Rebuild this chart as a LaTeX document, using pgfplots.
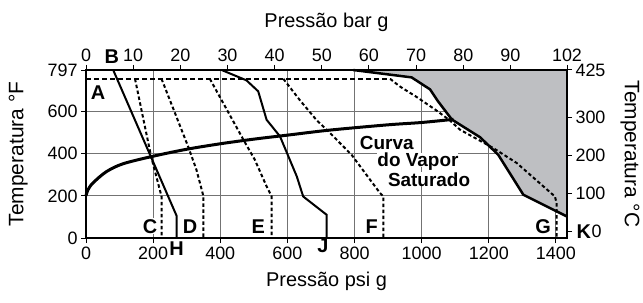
\documentclass[border=0pt]{standalone}
\usepackage{pgfplots}
\pgfplotsset{compat=1.18}
\usepackage{fontspec}
\setmainfont{Liberation Sans}
\definecolor{shade}{RGB}{190,191,194}
\tikzset{
  lab/.style={font=\bfseries\fontsize{20}{20}\selectfont, inner sep=1bp},
  ttl/.style={font=\fontsize{20}{20}\selectfont},
  sat/.style={font=\bfseries\fontsize{19}{19}\selectfont, fill=white, inner sep=0pt, anchor=base, text height=14bp},
}
\begin{document}
\begin{tikzpicture}[x=1bp,y=1bp]
\useasboundingbox (0,0) rectangle (643,302);
\pgfplotsset{
  common/.style={scale only axis, width=481bp, height=168bp, at={(86bp,64bp)}, anchor=south west,
    tick align=outside, major tick length=5bp, tick style={black, line width=1bp},
    ticklabel style={font=\fontsize{18}{18}\selectfont},
    /pgf/number format/assume math mode=true, /pgf/number format/1000 sep={},
    axis line style={line width=2.5bp}, clip=false},
}
\begin{axis}[common, xmin=0, xmax=1433, ymin=0, ymax=797,
  xtick={0,200,...,1400}, ytick={0,200,400,600,797},
  xtick pos=left, ytick pos=left,
  grid=major, grid style={black!55, line width=0.9bp},
  xlabel={Pressão psi g}, ylabel={Temperatura °F},
  xlabel style={ttl, at={(axis description cs:0.5,-0.256)}, anchor=center},
  ylabel style={ttl, font=\fontsize{21}{21}\selectfont, at={(axis description cs:-0.141,0.5)}, anchor=center}]
% shaded region
\addplot[fill=shade, draw=none] coordinates {(796,797) (970,762) (1025,705) (1048,650) (1090,562) (1174,478) (1228,395) (1303,205) (1433,102) (1433,797) (796,797)};
% A dashed line
\addplot[black, line width=2bp, dash pattern=on 5bp off 3bp] coordinates {(0,755) (906,755)};
% C
\addplot[black, line width=2bp, dash pattern=on 3.5bp off 2.5bp] coordinates {(146,755) (194,387) (225,197) (225,0)};
% D
\addplot[black, line width=2bp, dash pattern=on 3.5bp off 2.5bp] coordinates {(225,755) (304,435) (329,324) (350,197) (350,0)};
% E
\addplot[black, line width=2bp, dash pattern=on 3.5bp off 2.5bp] coordinates {(369,755) (469,466) (503,371) (538,245) (553,197) (553,0)};
% F
\addplot[black, line width=2bp, dash pattern=on 3.5bp off 2.5bp] coordinates {(588,755) (637,654) (687,559) (722,506) (791,395) (876,213) (886,197) (886,0)};
% G
\addplot[black, line width=2bp, dash pattern=on 3.5bp off 2.5bp] coordinates {(906,755) (935,719) (985,669) (1044,605) (1084,558) (1114,514) (1213,427) (1283,356) (1397,197) (1402,166) (1402,0)};
% B-H
\addplot[black, line width=2bp] coordinates {(81,797) (270,105) (270,0)};
% J
\addplot[black, line width=2bp] coordinates {(404,797) (478,748) (513,696) (538,561) (578,482) (603,387) (628,292) (647,197) (717,110) (717,0)};
% boundary
\addplot[black, line width=2.5bp] coordinates {(796,797) (970,762) (1025,705) (1048,650) (1090,562) (1174,478) (1228,395) (1303,205) (1433,102)};
% saturation curve
\addplot[black, line width=3bp, smooth] coordinates {(0,200) (5,226) (20,260) (60,314) (110,352) (200,388) (300,421) (400,447) (500,469) (600,488) (727,512) (900,537) (1000,548) (1095,563)};
% labels
\node[lab] at (axis cs:36,689) {A};
\node[lab] at (axis cs:77,860) {B};
\node[lab, fill=white] at (axis cs:191,55) {C};
\node[lab, fill=white] at (axis cs:310,55) {D};
\node[lab, fill=white] at (axis cs:513,55) {E};
\node[lab, fill=white] at (axis cs:851,55) {F};
\node[lab, fill=white] at (axis cs:1362,55) {G};
\node[lab] at (axis cs:270,-51) {H};
\node[lab] at (axis cs:706,-37) {J};
\node[lab] at (axis cs:1483,31) {K};
\node[sat, text depth=0pt] at (axis cs:896,418) {Curva};
\node[sat, text depth=0pt] at (axis cs:989,337) {do Vapor};
\node[sat, text depth=0pt] at (axis cs:1022,245) {Saturado};
\end{axis}
\begin{axis}[common, xmin=0, xmax=102, ymin=0, ymax=1,
  xtick={0,10,...,90,102}, xtick pos=right, ytick=\empty,
  xlabel={Pressão bar g},
  xlabel style={ttl, at={(axis description cs:0.5,1.286)}, anchor=center}]
\end{axis}
\begin{axis}[common, xmin=0, xmax=1, ymin=-17.78, ymax=425,
  ytick={0,100,200,300,425}, yticklabels={\hspace{16bp}0,100,200,300,425},
  ytick pos=right, xtick=\empty,
  ylabel={Temperatura °C},
  ylabel style={ttl, font=\fontsize{21}{21}\selectfont, at={(axis description cs:1.131,0.5)}, anchor=center, rotate=180}]
\end{axis}
\end{tikzpicture}
\end{document}
